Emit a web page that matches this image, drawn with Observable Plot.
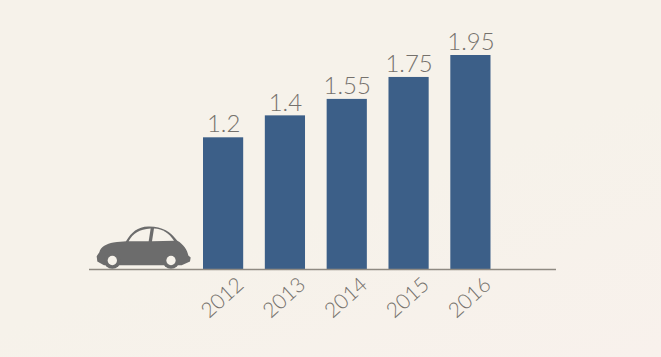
<!DOCTYPE html>
<html>
<head>
<meta charset="utf-8">
<script src="https://cdn.jsdelivr.net/npm/d3@7"></script>
<script src="https://cdn.jsdelivr.net/npm/@observablehq/plot@0.6"></script>
<style>
html,body{margin:0;padding:0;width:661px;height:357px;overflow:hidden;background:linear-gradient(160deg,#f6f2ea 0%,#f6f2ea 55%,#f8f1ec 100%);}
svg{display:block;}
</style>
</head>
<body>
<div id="chart"></div>
<script>
const years = ["2012","2013","2014","2015","2016"];
const values = [1.2,1.4,1.55,1.75,1.95];
const labels = ["1.2","1.4","1.55","1.75","1.95"];
const rows = years.map((year,i)=>({year,value:values[i],label:labels[i]}));

const barColor = "#3c5f88", inkColor = "#75716c", lineColor = "#8f8a82", carColor = "#6c6c6c", bgColor = "#f6f2ea";
const carBody = "M50 140 L58 128 C62 112 80 103 100 99 C115 96 128 96 138 95 C155 68 172 52 205 51 C245 50 272 66 292 94 C310 104 322 122 325 138 L332 144 L330 156 L305 167 L72 167 L52 156 Z";
const carWindows = ["M146 95 C158 72 178 59 212 57 L206 95 Z","M222 57 C248 58 268 72 282 94 L216 95 Z"];
const carWheels = [[97,153],[273,153]];

function car(index, scales) {
  const y0 = scales.y(0);
  const g = d3.create("svg:g").attr("transform", `translate(80,${y0-59.5}) scale(${1/3})`);
  g.append("path").attr("d",carBody).attr("fill",carColor);
  for (const d of carWindows) g.append("path").attr("d",d).attr("fill",bgColor);
  for (const [cx,cy] of carWheels) {
    g.append("circle").attr("cx",cx).attr("cy",cy).attr("r",25).attr("fill",carColor);
    g.append("circle").attr("cx",cx).attr("cy",cy).attr("r",14).attr("fill",bgColor);
  }
  return g.node();
}

const plot = Plot.plot({
  width:661, height:357,
  marginLeft:89, marginRight:105, marginTop:0, marginBottom:0,
  style:{background:"transparent", fontFamily:"Lato, 'Open Sans', sans-serif"},
  x:{type:"band", domain:years, range:[203,490.5], paddingInner:0.35, paddingOuter:0, round:false, axis:null},
  y:{domain:[0,1.95], range:[269,55], axis:null},
  marks:[
    Plot.barY(rows,{x:"year",y:"value",fill:barColor}),
    Plot.ruleY([0],{stroke:lineColor,strokeWidth:1.5}),
    Plot.text(rows,{x:"year",y:"value",text:"label",dy:-13,fill:inkColor,fontSize:24,fontWeight:300}),
    Plot.text(rows,{x:"year",y:()=>0,text:"year",rotate:-42,textAnchor:"end",dy:12,dx:17,fill:inkColor,fontSize:21,fontWeight:300,lineAnchor:"middle"}),
    car
  ]
});
document.getElementById("chart").append(plot);
</script>
</body>
</html>
